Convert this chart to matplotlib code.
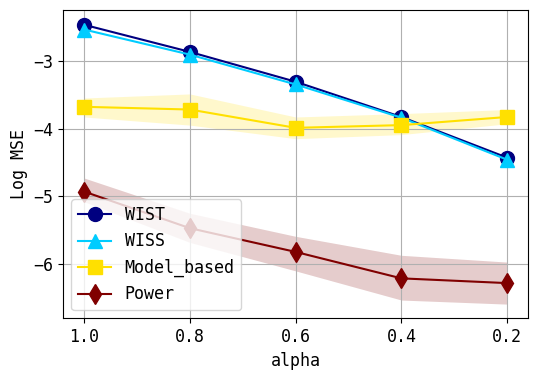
import numpy as np
import matplotlib
matplotlib.use('Agg')
import matplotlib.pyplot as plt

plt.rcParams['font.family'] = 'DejaVu Sans Mono'
plt.rcParams['font.size'] = 12

alpha = [1.0, 0.8, 0.6, 0.4, 0.2]

wist = [-2.47, -2.87, -3.31, -3.83, -4.43]
wiss = [-2.54, -2.91, -3.35, -3.84, -4.46]
model = [-3.68, -3.72, -3.99, -3.95, -3.83]
model_hi = [-3.55, -3.49, -3.83, -3.78, -3.72]
model_lo = [-3.83, -3.95, -4.15, -4.09, -3.93]
power = [-4.93, -5.47, -5.82, -6.21, -6.28]
power_hi = [-4.73, -5.25, -5.59, -5.87, -5.97]
power_lo = [-5.08, -5.68, -6.10, -6.53, -6.59]


def main():
    fig, ax = plt.subplots(figsize=(5.38, 3.79), dpi=100)
    fig.subplots_adjust(left=0.117, right=0.982, top=0.974, bottom=0.16)

    ax.plot(alpha, wist, color='navy', marker='o', markersize=10, label='WIST')
    ax.plot(alpha, wiss, color='#00CCFF', marker='^', markersize=10, label='WISS')
    ax.plot(alpha, model, color='#FFE000', marker='s', markersize=10, label='Model_based')
    ax.fill_between(alpha, model_lo, model_hi, color='#FFE000', alpha=0.2, linewidth=0)
    ax.plot(alpha, power, color='#800000', marker='d', markersize=10, label='Power')
    ax.fill_between(alpha, power_lo, power_hi, color='#800000', alpha=0.2, linewidth=0)

    ax.set_xticks(alpha)
    ax.set_xlim(1.04, 0.16)
    ax.set_ylim(-6.80, -2.25)
    ax.set_yticks([-3, -4, -5, -6])
    ax.grid(True)
    ax.set_xlabel('alpha')
    ax.set_ylabel('Log MSE')
    ax.legend(loc='lower left')

    fig.savefig('out.png')


if __name__ == '__main__':
    main()
